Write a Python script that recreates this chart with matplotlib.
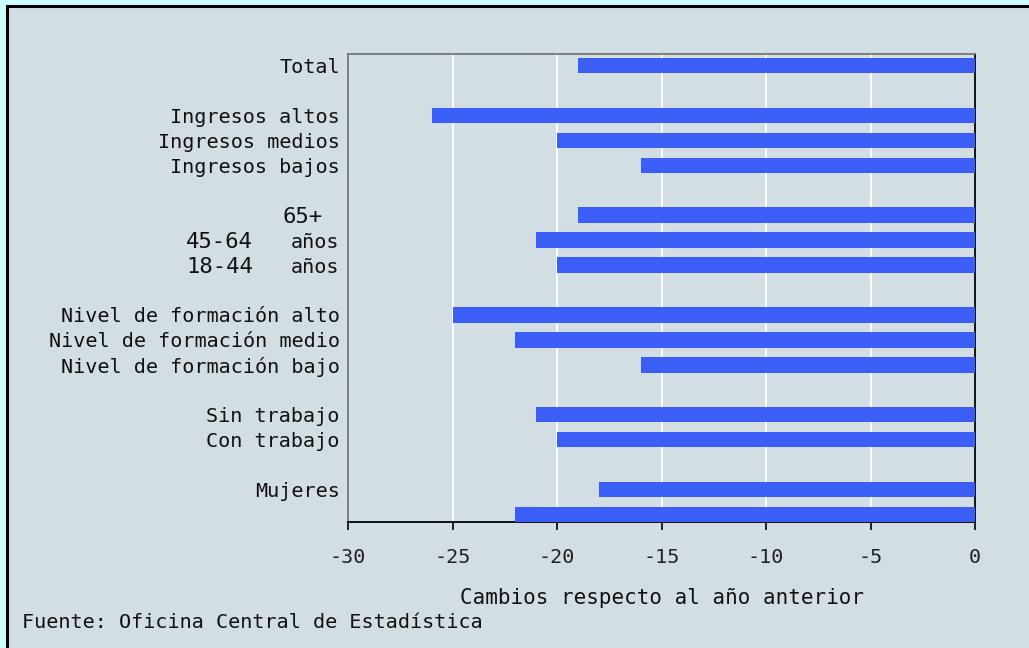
import matplotlib.pyplot as plt
from matplotlib.patches import Rectangle
from matplotlib.transforms import offset_copy

categories = ["Total",
              "Ingresos altos", "Ingresos medios", "Ingresos bajos",
              "65+", "45-64 años", "18-44 años",
              "Nivel de formación alto", "Nivel de formación medio", "Nivel de formación bajo",
              "Sin trabajo", "Con trabajo",
              "Mujeres", ""]
slots = [0, 2, 3, 4, 6, 7, 8, 10, 11, 12, 14, 15, 17, 18]
values = [-19, -26, -20, -16, -19, -21, -20, -25, -22, -16, -21, -20, -18, -22]
xticks = [-30, -25, -20, -15, -10, -5, 0]

bg = "#d2dee3"
bar_color = "#3a5ef6"
mono = "DejaVu Sans Mono"

fig = plt.figure(figsize=(10.29, 6.48), dpi=100)
fig.patch.set_facecolor("#ccffff")
# grey panel with black edge on the left/top
fig.add_artist(Rectangle((7 / 1029, -0.05), 1.1, 1 - 6 / 648 + 0.05,
                         transform=fig.transFigure, facecolor=bg,
                         edgecolor="black", linewidth=2.2, zorder=0))

ax = fig.add_axes([348 / 1029, 1 - 522 / 648, (975 - 348) / 1029, (522 - 54) / 648])
ax.set_facecolor(bg)
ax.barh(slots, values, height=0.62, color=bar_color, zorder=3)

ax.set_xlim(-30, 0)
ax.set_ylim(18.3, -0.46)
ax.set_xticks(xticks)
ax.set_xticklabels([str(t) for t in xticks], fontsize=14.5, family=mono, color="#222222")

# age groups: number part drawn bigger, "años" stays as tick label
ticklabels = []
for lab, y in zip(categories, slots):
    if lab[:1].isdigit():
        num, _, rest = lab.partition(" ")
        ticklabels.append(rest)
        dx = -25 if rest == "" else -95
        tr = offset_copy(ax.get_yaxis_transform(), fig=fig, x=dx, y=0, units="dots")
        ax.text(0, y, num, transform=tr, ha="right", va="center_baseline",
                fontsize=16, family=mono, color="#111111")
    else:
        ticklabels.append(lab)

ax.set_yticks(slots)
ax.set_yticklabels(ticklabels, fontsize=14.5, family=mono, color="#111111")
ax.tick_params(axis="y", length=0, pad=6)
ax.tick_params(axis="x", length=6, width=1.2, color="black", pad=13)
ax.grid(axis="x", color="white", linewidth=1.3, zorder=1)

ax.spines["top"].set_color("#777777")
ax.spines["left"].set_color("#777777")
ax.spines["right"].set_color("black")
ax.spines["bottom"].set_color("black")
for s in ax.spines.values():
    s.set_linewidth(1.3)

ax.set_xlabel("Cambios respecto al año anterior", fontsize=15, family=mono,
              labelpad=15, color="#111111")
fig.text(22 / 1029, 1 - 623 / 648, "Fuente: Oficina Central de Estadística",
         fontsize=14.5, family=mono, va="center", ha="left", color="#111111")

fig.savefig("out.png", dpi=100, facecolor=fig.get_facecolor())
